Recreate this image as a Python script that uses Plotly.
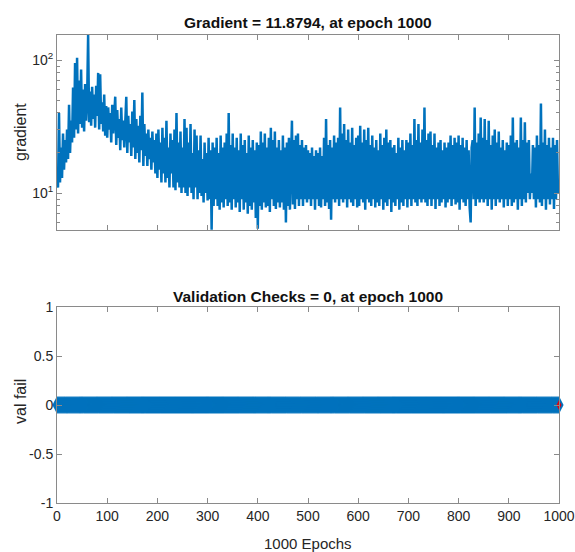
import plotly.graph_objects as go

# ---------------- data ----------------
epochs = list(range(0, 1001, 2))

gradient = [
    # 0-98
    13, 11, 40, 12, 22, 13, 28, 15, 25, 17,
    30, 18, 46, 20, 35, 24, 62, 26, 95, 30,
    104, 28, 70, 33, 85, 31, 60, 29, 66, 35,
    50, 154, 34, 58, 32, 63, 36, 55, 31, 64,
    38, 80, 30, 78, 33, 48, 29, 55, 27, 45,
    # 100-198
    26, 44, 30, 40, 24, 46, 28, 38, 53, 23,
    42, 26, 36, 21, 44, 25, 35, 22, 40, 53,
    20, 38, 24, 33, 19, 41, 22, 50, 18, 36,
    20, 32, 17, 38, 21, 57, 16, 33, 19, 28,
    16, 30, 18, 26, 15, 29, 17, 25, 14, 28,
    # 200-298
    13, 30, 15, 24, 12, 31, 14, 26, 12, 35,
    13, 22, 11, 28, 14, 25, 11, 30, 10.5, 40,
    12, 24, 11, 29, 10, 22, 11, 36, 10, 31,
    9.5, 24, 11, 33, 10, 20, 9, 30, 11, 27,
    9, 21, 10, 27, 9.5, 18, 8.5, 24, 10, 20,
    # 300-398
    8.8, 26, 9, 21, 5.3, 24, 8, 22, 9, 26,
    8, 20, 7.5, 27, 8.5, 22, 7.8, 24, 9, 28,
    8, 40, 8.5, 23, 7.5, 28, 9, 22, 7.8, 26,
    8.5, 21, 7.2, 28, 9, 23, 7.5, 25, 8.5, 20,
    7, 27, 8, 22, 7.5, 25, 8.5, 21, 6.5, 24,
    # 400-498
    5.4, 23, 8, 29, 7.5, 24, 8.5, 28, 7.8, 22,
    8, 26, 7.2, 31, 9, 25, 8, 29, 7.6, 22,
    8.5, 25, 7.8, 21, 8.5, 27, 7.5, 22, 6, 24,
    8, 26, 7.5, 21, 35, 8.2, 25, 7.6, 27, 9,
    28, 8, 23, 9, 25, 8, 22, 9, 23, 8.5,
    # 500-598
    21, 9, 20, 8, 22, 9, 19, 7.5, 21, 9,
    20, 8, 22, 7.8, 19, 9, 26, 8, 36, 8.5,
    23, 7.6, 25, 6.3, 22, 9, 27, 8.5, 24, 9,
    26, 8, 44, 9, 28, 8.5, 33, 9, 25, 7.8,
    30, 9, 24, 8.5, 31, 8, 23, 9, 26, 7.8,
    # 600-698
    27, 8, 32, 9, 24, 8.5, 30, 7.5, 25, 9,
    31, 8.5, 23, 8, 27, 9, 22, 7.8, 25, 8.5,
    21, 8, 28, 9, 23, 7.5, 26, 8.5, 30, 8,
    24, 9, 25, 7.2, 22, 8.5, 23, 8, 20, 9,
    26, 7.5, 22, 8.5, 25, 8, 21, 9, 25, 7.8,
    # 700-798
    24, 9, 28, 8, 23, 9, 36, 8.5, 25, 8,
    33, 9, 24, 8.5, 30, 9, 44, 8.5, 25, 8,
    28, 9, 29, 8, 23, 9, 28, 7.6, 22, 9,
    24, 8, 25, 8.5, 21, 9, 24, 7.8, 22, 8.5,
    24, 9, 27, 8, 23, 9, 26, 8.2, 24, 8.5,
    # 800-898
    27, 7.5, 23, 9, 26, 8.5, 22, 8, 25, 9,
    21, 7.8, 6, 22, 25, 9, 44, 8, 24, 9,
    28, 8.5, 37, 9, 26, 8.5, 36, 9, 25, 8,
    35, 9, 23, 7.5, 27, 9, 30, 8, 24, 9,
    29, 8.5, 22, 9, 25, 7.8, 21, 9, 24, 8,
    # 900-998
    23, 9, 27, 8, 37, 8.5, 24, 9, 25, 7.5,
    22, 9, 37, 8, 25, 9, 34, 8.5, 24, 10,
    25, 9, 14, 10, 23, 9, 22, 7.8, 27, 9,
    23, 8.5, 47, 8, 24, 9, 30, 7.5, 23, 9,
    26, 8.2, 22, 9, 26, 7.6, 23, 9, 25, 10,
    # 1000
    11.8794,
]
n = min(len(epochs), len(gradient))
epochs_g = epochs[:n]
gradient = gradient[:n]

val_fail = [0] * len(epochs)
best_epoch = [1000]
best_val_fail = [0]

x_ticks = [0, 100, 200, 300, 400, 500, 600, 700, 800, 900, 1000]
x_ticktext = ["0", "100", "200", "300", "400", "500", "600", "700", "800", "900", "1000"]
grad_ticks = [10, 100]
grad_ticktext = ["10<sup>1</sup>", "10<sup>2</sup>"]
grad_minor = [6, 7, 8, 9, 20, 30, 40, 50, 60, 70, 80, 90]
vf_ticks = [-1, -0.5, 0, 0.5, 1]
vf_ticktext = ["-1", "-0.5", "0", "0.5", "1"]

title_top = "Gradient = 11.8794, at epoch 1000"
title_bottom = "Validation Checks = 0, at epoch 1000"
ylabel_top = "gradient"
ylabel_bottom = "val fail"
xlabel = "1000 Epochs"

# ---------------- style ----------------
BLUE = "#0072BD"
AXC = "#8a8a8a"
TXT = "#262626"
FONT = "Liberation Sans, Arial, sans-serif"

fig = go.Figure()
fig.add_trace(go.Scatter(
    x=epochs_g, y=gradient, mode="lines",
    line=dict(color=BLUE, width=2.5),
    xaxis="x", yaxis="y", showlegend=False,
))
fig.add_trace(go.Scatter(
    x=epochs, y=val_fail, mode="lines+markers",
    line=dict(color=BLUE, width=2),
    marker=dict(symbol="diamond-tall", size=13, color=BLUE, line=dict(width=0)),
    xaxis="x2", yaxis="y2", showlegend=False, cliponaxis=False,
))
fig.add_trace(go.Scatter(
    x=best_epoch, y=best_val_fail, mode="markers",
    marker=dict(symbol="diamond-tall", size=7, color="#e0000f", line=dict(width=0)),
    xaxis="x2", yaxis="y2", showlegend=False, cliponaxis=False,
))

common_x = dict(
    range=[0, 1000], tickvals=x_ticks, ticktext=x_ticktext,
    ticks="inside", ticklen=5, tickcolor=AXC, showline=True, linecolor=AXC,
    linewidth=1, mirror="ticks", showgrid=False, zeroline=False, automargin=False,
    tickfont=dict(family=FONT, size=14, color=TXT),
)

H_TOTAL = 468.0

fig.update_layout(
    width=575, height=552, autosize=False,
    margin=dict(l=57, r=16, t=35, b=49),
    paper_bgcolor="white", plot_bgcolor="white",
    xaxis=dict(common_x, domain=[0, 1], anchor="y", showticklabels=False),
    yaxis=dict(
        type="log", range=[0.722, 2.188], domain=[273 / H_TOTAL, 1], anchor="x",
        tickvals=grad_ticks, ticktext=grad_ticktext,
        ticks="inside", ticklen=5, tickcolor=AXC, showline=True, linecolor=AXC,
        linewidth=1, mirror="ticks", showgrid=False, zeroline=False, automargin=False,
        tickfont=dict(family=FONT, size=14, color=TXT),
        minor=dict(tickvals=grad_minor, ticks="inside", ticklen=3, tickcolor=AXC),
    ),
    xaxis2=dict(common_x, domain=[0, 1], anchor="y2", showticklabels=True),
    yaxis2=dict(
        range=[-1, 1], domain=[0, 196 / H_TOTAL], anchor="x2",
        tickvals=vf_ticks, ticktext=vf_ticktext,
        ticks="inside", ticklen=5, tickcolor=AXC, showline=True, linecolor=AXC,
        linewidth=1, mirror="ticks", showgrid=False, zeroline=False, automargin=False,
        tickfont=dict(family=FONT, size=14, color=TXT),
    ),
    annotations=[
        dict(text="<b>" + title_top + "</b>", xref="paper", yref="paper",
             x=0.5, y=(503 - 22) / H_TOTAL, xanchor="center", yanchor="middle",
             showarrow=False, font=dict(family=FONT, size=15.5, color="#111")),
        dict(text="<b>" + title_bottom + "</b>", xref="paper", yref="paper",
             x=0.5, y=(503 - 296) / H_TOTAL, xanchor="center", yanchor="middle",
             showarrow=False, font=dict(family=FONT, size=15.5, color="#111")),
        dict(text=ylabel_top, xref="paper", yref="paper", textangle=-90,
             x=(20 - 57) / 502, y=(503 - 132) / H_TOTAL, xanchor="center", yanchor="middle",
             showarrow=False, font=dict(family=FONT, size=16, color=TXT)),
        dict(text=ylabel_bottom, xref="paper", yref="paper", textangle=-90,
             x=(20 - 57) / 502, y=(503 - 402) / H_TOTAL, xanchor="center", yanchor="middle",
             showarrow=False, font=dict(family=FONT, size=16, color=TXT)),
        dict(text=xlabel, xref="paper", yref="paper",
             x=0.5, y=(503 - 543) / H_TOTAL, xanchor="center", yanchor="middle",
             showarrow=False, font=dict(family=FONT, size=15, color=TXT)),
    ],
)

fig.write_html(
    "out.html",
    config={"responsive": False, "displayModeBar": False},
    post_script="document.body.style.margin='0';document.body.style.overflow='hidden';",
)
